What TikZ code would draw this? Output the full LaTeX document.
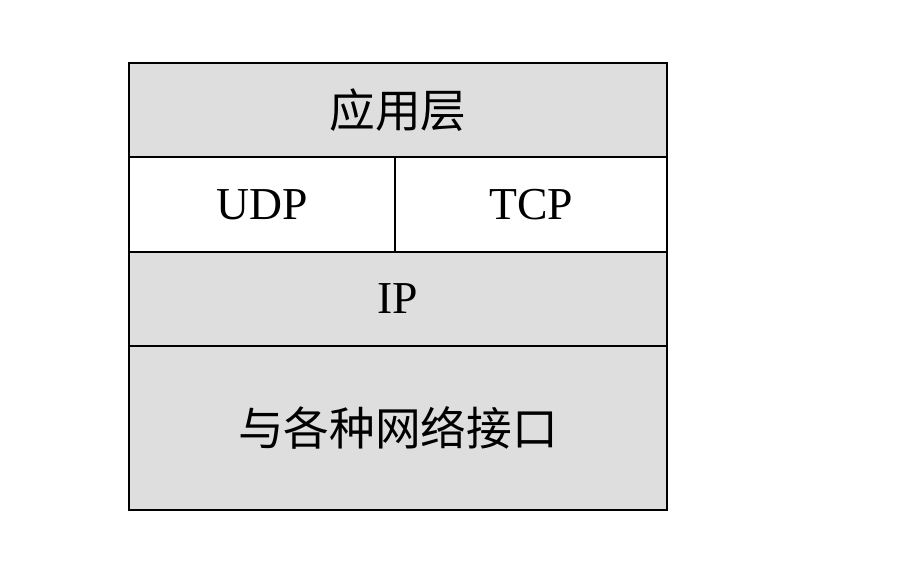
\documentclass[tikz,border=0pt]{standalone}
\usepackage{fontspec}
\setmainfont{Liberation Serif}
\newfontfamily\cjk{Noto Sans CJK SC}
\definecolor{layergray}{RGB}{222, 222, 222}
\usetikzlibrary{positioning}

\begin{document}
\begin{tikzpicture}[
    layerbox/.style={draw=black, line width=1pt, inner sep=0pt, font=\fontsize{26}{30}\selectfont},
    grayfill/.style={fill=layergray},
  ]
  \useasboundingbox (0, 0) rectangle (17.98, 11.22);

  % layers, top to bottom
  \node[layerbox, grayfill, minimum width=10.76cm, minimum height=1.88cm] (app) at (7.96, 9.02) {\cjk 应用层};
  \node[layerbox, fill=white, minimum width=5.32cm, minimum height=1.90cm] (udp) at (5.24, 7.13) {UDP};
  \node[layerbox, fill=white, minimum width=5.44cm, minimum height=1.90cm] (tcp) at (10.62, 7.13) {TCP};
  \node[layerbox, grayfill, minimum width=10.76cm, minimum height=1.88cm] (ip) at (7.96, 5.24) {IP};
  \node[layerbox, grayfill, minimum width=10.76cm, minimum height=3.28cm] (netif) at (7.96, 2.66) {\cjk 与各种网络接口};
\end{tikzpicture}
\end{document}
